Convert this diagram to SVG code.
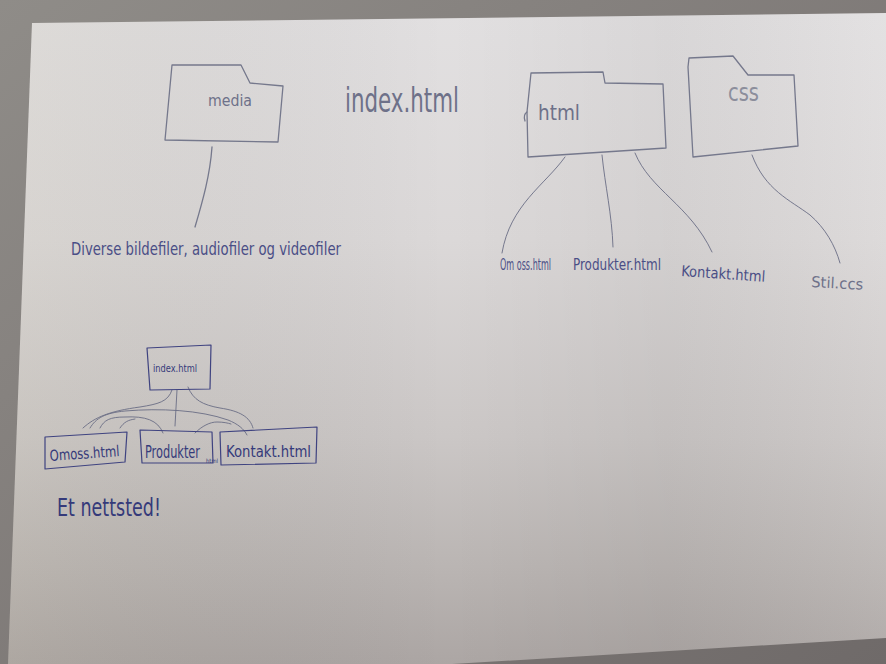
<svg xmlns="http://www.w3.org/2000/svg" width="886" height="664" viewBox="0 0 886 664">
<defs>
<linearGradient id="bg" x1="0" y1="0" x2="1" y2="1">
<stop offset="0" stop-color="#8f8c88"/>
<stop offset="0.6" stop-color="#7d7876"/>
<stop offset="1" stop-color="#6f6a69"/>
</linearGradient>
<linearGradient id="paper" x1="0" y1="0" x2="0" y2="1">
<stop offset="0" stop-color="#e2e0e1"/>
<stop offset="0.35" stop-color="#dbd8d8"/>
<stop offset="0.65" stop-color="#cbc7c6"/>
<stop offset="0.85" stop-color="#bab5b3"/>
<stop offset="1" stop-color="#aca6a4"/>
</linearGradient>
<linearGradient id="shade" x1="0" y1="0" x2="1" y2="0">
<stop offset="0" stop-color="#b8b08a" stop-opacity="0.10"/>
<stop offset="0.5" stop-color="#000" stop-opacity="0"/>
<stop offset="0.75" stop-color="#000" stop-opacity="0.04"/>
<stop offset="1" stop-color="#fff" stop-opacity="0.05"/>
</linearGradient>
<style>
.pencil{fill:none;stroke:#75788c;stroke-width:1.3;stroke-linecap:round;stroke-linejoin:round}
.pen{fill:none;stroke:#3f4380;stroke-width:1.2;stroke-linecap:round;stroke-linejoin:round}
.thin{fill:none;stroke:#6a6d84;stroke-width:0.9;stroke-linecap:round}
.hand{font-family:"DejaVu Sans Condensed","Liberation Sans",sans-serif;fill:#4a4e86}
.grey{fill:#6e7189}
.light{fill:#8c8e9c}
.ink{fill:#353a7a}
</style>
</defs>
<rect width="886" height="664" fill="url(#bg)"/>
<path d="M32,23 L886,13 L886,638 L452,664 L8,664 Z" fill="url(#paper)"/>
<path d="M32,23 L886,13 L886,638 L452,664 L8,664 Z" fill="url(#shade)"/>

<g id="connectors">
<path class="pencil" d="M212,147 C210,175 203,200 195,227"/>
<path class="thin" d="M565,157 C545,185 510,205 502,253"/>
<path class="thin" d="M602,155 C605,185 612,215 613,247"/>
<path class="thin" d="M635,153 C650,190 690,205 712,252"/>
<path class="thin" d="M752,155 C765,190 790,200 810,215 C825,228 835,245 840,263"/>
<path class="thin" d="M177,390 L175,426"/>
<path class="thin" d="M172,390 C168,402 158,404 140,407 C110,411 95,417 83,428"/>
<path class="thin" d="M188,387 C193,400 203,405 220,408 C240,411 250,417 253,428"/>
<path class="thin" d="M90,428 C96,418 105,413 125,411 C160,408 200,410 228,420 C238,424 244,429 247,435"/>
<path class="thin" d="M100,428 C104,420 110,417 125,417 C145,416 158,420 163,433"/>
<path class="thin" d="M120,428 C124,422 128,420 135,419"/>
<path class="thin" d="M195,433 C202,426 210,422 217,422 C223,422 228,423 231,424"/>
</g>

<g id="media">
<path class="pencil" d="M172,65 L241,65 L250,83 L283,86 L278,142 L165,140 Z"/>
<text class="hand grey" x="208" y="106" font-size="16" textLength="44" lengthAdjust="spacingAndGlyphs">media</text>
</g>

<g id="index-title">
<text class="hand grey" x="345" y="112" font-size="34" textLength="114" lengthAdjust="spacingAndGlyphs">index.html</text>
</g>

<g id="html">
<path class="pencil" d="M531,73 L603,72 L605,83 L663,84 L666,148 L528,157 L527,112 L531,73"/>
<path class="pencil" d="M527,112 C524,114 524,118 525,121"/>
<text class="hand grey" x="538" y="120" font-size="21" textLength="42" lengthAdjust="spacingAndGlyphs">html</text>
</g>

<g id="css">
<path class="pencil" d="M689,58 L733,56 L748,75 L794,75 L798,146 L693,157 L688,67 Z"/>
<text class="hand light" x="728" y="101" font-size="24" textLength="31" lengthAdjust="spacingAndGlyphs">css</text>
</g>

<g id="diverse">
<text class="hand" x="71" y="255" font-size="17" textLength="270" lengthAdjust="spacingAndGlyphs">Diverse bildefiler, audiofiler og videofiler</text>
</g>

<g id="om-oss">
<text class="hand" x="500" y="270" font-size="12" textLength="51" lengthAdjust="spacingAndGlyphs" transform="matrix(1 0 0 1.3 0 -81)">Om oss.html</text>
</g>

<g id="produkter">
<text class="hand" x="573" y="270" font-size="13" textLength="88" lengthAdjust="spacingAndGlyphs" transform="matrix(1 0 0 1.25 0 -67.5)">Produkter.html</text>
</g>

<g id="kontakt">
<text class="hand" x="681" y="276" font-size="15" textLength="84" lengthAdjust="spacingAndGlyphs" transform="rotate(4 681 276)">Kontakt.html</text>
</g>

<g id="stil">
<text class="hand grey" x="811" y="287" font-size="15" textLength="52" lengthAdjust="spacingAndGlyphs" transform="rotate(3 811 287)">Stil.ccs</text>
</g>

<g id="b-index">
<path class="pen" d="M147,348 L211,345 L210,389 L150,390 Z"/>
<text class="hand ink" x="153" y="372" font-size="10" textLength="44" lengthAdjust="spacingAndGlyphs">index.html</text>
</g>

<g id="b-omoss">
<path class="pen" d="M45,437 L127,432 L125,462 L45,469 Z"/>
<text class="hand ink" x="50" y="461" font-size="15" textLength="70" lengthAdjust="spacingAndGlyphs" transform="rotate(-4 50 461)">Omoss.html</text>
</g>

<g id="b-produkter">
<path class="pen" d="M140,430 L212,432 L213,463 L142,463 Z"/>
<text class="hand ink" x="145" y="458" font-size="12" textLength="55" lengthAdjust="spacingAndGlyphs" transform="matrix(1 0 0 1.4 0 -183.2)">Produkter</text>
<text class="hand ink" x="206" y="463" font-size="6" textLength="12" lengthAdjust="spacingAndGlyphs">html</text>
</g>

<g id="b-kontakt">
<path class="pen" d="M220,432 L317,427 L316,463 L221,465 Z"/>
<text class="hand ink" x="226" y="457" font-size="16" textLength="85" lengthAdjust="spacingAndGlyphs">Kontakt.html</text>
</g>

<g id="et-nettsted">
<text class="hand ink" x="57" y="516" font-size="25" textLength="104" lengthAdjust="spacingAndGlyphs">Et nettsted!</text>
</g>
</svg>
